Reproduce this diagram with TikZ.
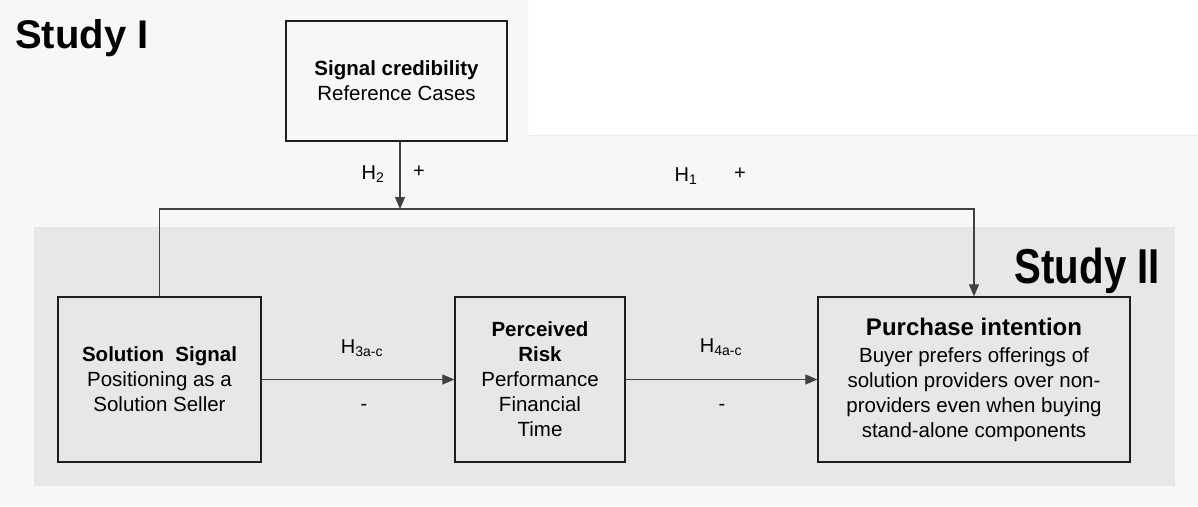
\documentclass[tikz,border=0pt]{standalone}
\usepackage{fontspec}
\setmainfont{Liberation Sans}
\usetikzlibrary{arrows.meta}
\definecolor{bgA}{HTML}{F7F7F7}
\definecolor{bgB}{HTML}{E7E7E7}
\definecolor{edgec}{HTML}{1E1E1E}
\definecolor{connc}{HTML}{404040}
\tikzset{
  boxnode/.style={draw=edgec, line width=1.3pt, align=center, inner sep=0pt,
    font=\fontsize{20.5}{25}\selectfont},
  conn/.style={draw=connc, line width=1.1pt, -{Triangle[length=12pt,width=10pt]}},
  lab/.style={inner sep=0pt, font=\fontsize{20}{24}\selectfont},
  study/.style={inner sep=0pt, font=\bfseries\fontsize{40}{46}\selectfont}
}
\begin{document}
\begin{tikzpicture}[x=1pt,y=-1pt]
\useasboundingbox (0,0) rectangle (1198,506);
\fill[white] (0,0) rectangle (1198,506);
\fill[bgA] (0,0) -- (528,0) -- (528,135) -- (1198,135) -- (1198,506) -- (0,506) -- cycle;
\draw[bgB!60!bgA, line width=0.6pt] (528,135) -- (1198,135);
\fill[bgB] (34,227) rectangle (1175,486);

\node[study, anchor=base west] (s1) at (15,48) {Study I};
\node[study, anchor=base east, font=\bfseries\fontsize{49}{54}\selectfont, xscale=0.82, transform shape] (s2) at (1160,283) {Study II};

\node[boxnode, minimum width=221pt, minimum height=120pt] (sig) at (396.5,81)
  {\textbf{Signal credibility}\\Reference Cases};
\node[boxnode, minimum width=203pt, minimum height=165pt] (sol) at (159.5,379.5)
  {\textbf{Solution\ \ Signal}\\Positioning as a\\Solution Seller};
\node[boxnode, minimum width=170pt, minimum height=165pt] (per) at (540,379.5)
  {\textbf{Perceived}\\\textbf{Risk}\\Performance\\Financial\\Time};
\node[boxnode, minimum width=312pt, minimum height=165pt] (pur) at (974,379.5)
  {{\bfseries\fontsize{24}{28}\selectfont Purchase intention}\\[2pt]Buyer prefers offerings of\\solution providers over non-\\providers even when buying\\stand-alone components};

\coordinate (junc) at (400,209);
\draw[conn] (sig.south -| junc) -- (junc);
\draw[conn] (sol.north) |- (junc) -| (pur.north);
\draw[conn] (sol.east) -- (per.west);
\draw[conn] (per.east) -- (pur.west);

\node[lab] (h2) at (373,174) {H\textsubscript{2}};
\node[lab] (p2) at (419,172) {+};
\node[lab] (h1) at (686,176) {H\textsubscript{1}};
\node[lab] (p1) at (740,174) {+};
\node[lab] (h3) at (362,348) {H\textsubscript{3a-c}};
\node[lab] (m3) at (364,407) {-};
\node[lab] (h4) at (721,347) {H\textsubscript{4a-c}};
\node[lab] (m4) at (722,407) {-};
\end{tikzpicture}
\end{document}
